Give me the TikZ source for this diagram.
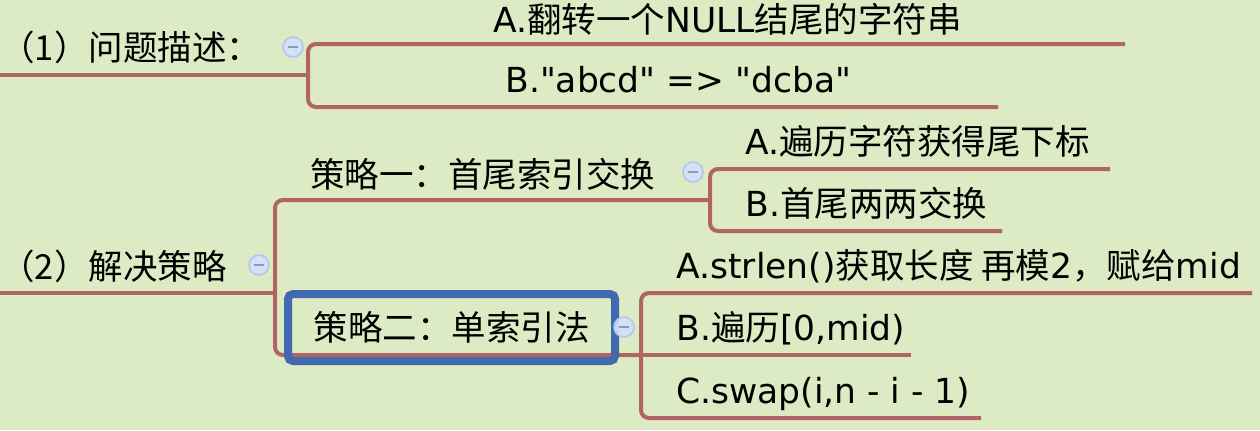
\documentclass[tikz,border=0pt]{standalone}
\usepackage{fontspec}
\setmainfont{DejaVu Sans}[Ligatures=TeXOff]
\newfontfamily\cjk{Noto Sans CJK SC}

\definecolor{bgcol}{HTML}{DDEBC4}
\definecolor{branchred}{HTML}{B06464}
\definecolor{boxblue}{HTML}{4169AF}
\definecolor{foldfill}{HTML}{D4E1FA}
\definecolor{foldline}{HTML}{B2C6F0}
\definecolor{foldminus}{HTML}{8C98C4}

\begin{document}
\begin{tikzpicture}[x=0.5pt, y=-0.5pt,
            branch line/.style={draw=branchred, line width=2pt, rounded corners=4pt},
            text node/.style={anchor=west, inner sep=0pt, text height=14.8pt, text depth=2pt,
                font=\fontsize{17.25}{20}\selectfont},
            pick node/.style={draw=boxblue, line width=4pt, rounded corners=2.5pt,
                minimum width=163.5pt, minimum height=33.5pt, inner sep=0pt,
                font=\fontsize{17.25}{20}\selectfont},
            fold node/.style={circle, draw=foldline, fill=foldfill, line width=0.8pt,
                minimum size=10pt, inner sep=0pt, fill opacity=0.9,
                path picture={\draw[foldminus, line width=1pt]
                    ([xshift=-2.5pt]path picture bounding box.center) --
                    ([xshift=2.5pt]path picture bounding box.center);}},
            ]

            \fill[bgcol] (0,0) rectangle (1260,430);
            \useasboundingbox (0,0) rectangle (1260,430);

            % line ends and junctions
            \coordinate (r1s) at (0,75);
            \coordinate (k1) at (308,75);
            \coordinate (a1e) at (1125,44);
            \coordinate (b1e) at (998,107);
            \coordinate (r2s) at (0,293);
            \coordinate (k2) at (275,293);
            \coordinate (k3) at (710,200);
            \coordinate (k4) at (641,355);
            \coordinate (a2e) at (1110,169);
            \coordinate (b2e) at (1002,231);
            \coordinate (a3e) at (1252,293);
            \coordinate (b3e) at (911,355);
            \coordinate (c3e) at (981,418);

            \draw[branch line] (r1s) -- (k1);
            \draw[branch line] (k1) |- (a1e);
            \draw[branch line] (k1) |- (b1e);
            \draw[branch line] (r2s) -- (k2);
            \draw[branch line] (k2) |- (k3);
            \draw[branch line] (k2) |- (k4);
            \draw[branch line] (k3) |- (a2e);
            \draw[branch line] (k3) |- (b2e);
            \draw[branch line] (k4) |- (a3e);
            \draw[branch line] (k4) -- (b3e);
            \draw[branch line] (k4) |- (c3e);

            \node[text node] (r1) at (0,48) {\cjk （1）问题描述：};
            \node[text node] (a1) at (493,20) {A.{\cjk 翻转一个}NULL{\cjk 结尾的字符串}};
            \node[text node] (b1) at (505,80) {B."abcd" => "dcba"};
            \node[text node] (r2) at (0,267) {\cjk （2）解决策略};
            \node[text node] (s1) at (310,175) {\cjk 策略一：首尾索引交换};
            \node[text node] (a2) at (745,142) {A.{\cjk 遍历字符获得尾下标}};
            \node[text node] (b2) at (745,204) {B.{\cjk 首尾两两交换}};
            \node[pick node] (s2) at (451.5,327.5) {\cjk 策略二：单索引法};
            \node[text node] (a3) at (676,266) {A.strlen(){\cjk 获取长度 再模}2{\cjk ，赋给}mid};
            \node[text node] (b3) at (676,328) {B.{\cjk 遍历}[0,mid)};
            \node[text node] (c3) at (676,391) {C.swap(i,n - i - 1)};

            \node[fold node] (f1) at (293,47) {};
            \node[fold node] (f2) at (259,265) {};
            \node[fold node] (f3) at (693,172) {};
            \node[fold node] (f4) at (624,327) {};
        \end{tikzpicture}
\end{document}
